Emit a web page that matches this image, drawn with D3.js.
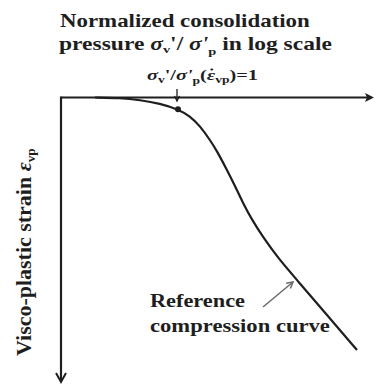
<!DOCTYPE html>
<html>
<head>
<meta charset="utf-8">
<script src="https://cdn.jsdelivr.net/npm/d3@7/dist/d3.min.js"></script>
<style>
  html, body { margin: 0; padding: 0; background: #fff; }
</style>
</head>
<body>
<svg id="chart" width="376" height="386"></svg>
<script>
// Normalized pressure, log10(σv'/σ'p), along the reference compression curve
const logPressure = [-0.83, -0.58, -0.38, -0.18, 0, 0.12, 0.22, 0.32, 0.39, 0.49, 0.57, 0.64, 0.74, 0.85, 1.00, 1.19, 1.49, 1.79];
// Visco-plastic strain (arbitrary units) at each pressure
const strain = [0, 0.05, 0.25, 0.6, 1.18, 1.85, 2.85, 4.25, 5.35, 7.25, 8.85, 10.35, 12.25, 13.95, 16.05, 18.25, 21.75, 25.25];
// Yield point where σv'/σ'p = 1
const yieldPoint = { logP: 0, strain: 1.18 };
// Axis extents
const xExtent = [-1.17, 1.96];
const yExtent = [0, 28.45];

const svg = d3.select("#chart");
const x = d3.scaleLinear().domain(xExtent).range([61, 374]);
const y = d3.scaleLinear().domain(yExtent).range([97.5, 382]);
const ink = "#1e1e1e";

// Axes with arrowheads
svg.append("line")
  .attr("x1", x(xExtent[0])).attr("y1", y(0))
  .attr("x2", x(xExtent[1]) - 4).attr("y2", y(0))
  .attr("stroke", ink).attr("stroke-width", 2.2);
svg.append("path")
  .attr("d", `M${x(xExtent[1])},${y(0)} l-9,-4.5 l2,4.5 l-2,4.5 z`)
  .attr("fill", ink);
svg.append("line")
  .attr("x1", x(xExtent[0])).attr("y1", y(0) - 1.1)
  .attr("x2", x(xExtent[0])).attr("y2", y(yExtent[1]) - 1)
  .attr("stroke", ink).attr("stroke-width", 2.2);
svg.append("path")
  .attr("d", `M${x(xExtent[0]) - 5},${y(yExtent[1]) - 9} L${x(xExtent[0])},${y(yExtent[1])} L${x(xExtent[0]) + 5},${y(yExtent[1]) - 9}`)
  .attr("fill", "none").attr("stroke", ink).attr("stroke-width", 2);

// Reference compression curve
const line = d3.line()
  .x((d, i) => x(logPressure[i]))
  .y((d, i) => y(strain[i]))
  .curve(d3.curveBasis);
svg.append("path")
  .datum(strain)
  .attr("d", line)
  .attr("fill", "none").attr("stroke", ink).attr("stroke-width", 2.2);

// Yield point marker and its pointer
svg.append("circle")
  .attr("cx", x(yieldPoint.logP)).attr("cy", y(yieldPoint.strain))
  .attr("r", 3).attr("fill", ink);
const px = x(yieldPoint.logP) - 1;
svg.append("line")
  .attr("x1", px).attr("y1", 89).attr("x2", px).attr("y2", 101)
  .attr("stroke", ink).attr("stroke-width", 1.3);
svg.append("path")
  .attr("d", `M${px - 2.5},${96} L${px},${101} L${px + 2.5},${96}`)
  .attr("fill", "none").attr("stroke", ink).attr("stroke-width", 1.3);

// Bold serif text, placed at (tx, ty) and stretched along its run to span `span` px
function label(size, tx, ty, span, rotate) {
  const g = svg.append("g");
  const t = g.append("text")
    .attr("font-family", "Liberation Serif")
    .attr("font-weight", "bold")
    .attr("font-size", size)
    .attr("fill", ink);
  return {
    g, t,
    fit() {
      const w = t.node().getBBox().width;
      const s = span / w;
      g.attr("transform", `translate(${tx},${ty})${rotate ? " rotate(-90)" : ""} scale(${s},1)`);
    }
  };
}

// Axis title
const l1 = label(18, 60, 27, 250);
l1.t.text("Normalized consolidation");
l1.fit();
const l2 = label(18, 59, 50, 273);
l2.t.append("tspan").text("pressure  ");
l2.t.append("tspan").attr("font-style", "italic").text("σ");
l2.t.append("tspan").attr("font-size", 11).attr("dy", 3).text("v");
l2.t.append("tspan").attr("dy", -3).text("'/ ");
l2.t.append("tspan").attr("font-style", "italic").text("σ'");
l2.t.append("tspan").attr("font-size", 11).attr("dy", 5).text("p");
l2.t.append("tspan").attr("dy", -5).text(" in log scale");
l2.fit();

// Yield condition label
const l3 = label(15, 147, 80, 111);
l3.t.append("tspan").attr("font-style", "italic").text("σ");
l3.t.append("tspan").attr("font-size", 10).attr("dy", 3).text("v");
l3.t.append("tspan").attr("dy", -3).text("'/");
l3.t.append("tspan").attr("font-style", "italic").text("σ'");
l3.t.append("tspan").attr("font-size", 10).attr("dy", 4).text("p");
l3.t.append("tspan").attr("dy", -4).text("(");
const eps = l3.t.append("tspan").attr("font-style", "italic").text("ε");
l3.t.append("tspan").attr("font-size", 10).attr("dy", 3).text("vp");
l3.t.append("tspan").attr("dy", -3).text(")=1");
l3.fit();
// Rate dot over epsilon
const eb = eps.node().getExtentOfChar(0);
l3.g.append("circle")
  .attr("cx", eb.x + eb.width / 2 + 0.6).attr("cy", -10.5)
  .attr("r", 1.1).attr("fill", ink);

// Vertical axis title
const yl = label(20, 31, 356, 208, true);
yl.t.append("tspan").text("Visco-plastic strain  ");
yl.t.append("tspan").attr("font-style", "italic").text("ε");
yl.t.append("tspan").attr("font-size", 12).attr("dy", 4).text("vp");
yl.fit();

// Curve annotation
const r1 = label(18, 150, 307, 95);
r1.t.text("Reference");
r1.fit();
const r2 = label(18, 150, 332, 180);
r2.t.text("compression curve");
r2.fit();

const ax0 = 263, ay0 = 307, ax1 = 293, ay1 = 282;
svg.append("line")
  .attr("x1", ax0).attr("y1", ay0).attr("x2", ax1).attr("y2", ay1)
  .attr("stroke", "#6a6a6a").attr("stroke-width", 1.5);
const ang = Math.atan2(ay1 - ay0, ax1 - ax0);
const hl = 7, hw = 0.5;
svg.append("path")
  .attr("d", `M${ax1 - hl * Math.cos(ang - hw)},${ay1 - hl * Math.sin(ang - hw)} L${ax1},${ay1} L${ax1 - hl * Math.cos(ang + hw)},${ay1 - hl * Math.sin(ang + hw)}`)
  .attr("fill", "none").attr("stroke", "#6a6a6a").attr("stroke-width", 1.5);
</script>
</body>
</html>
